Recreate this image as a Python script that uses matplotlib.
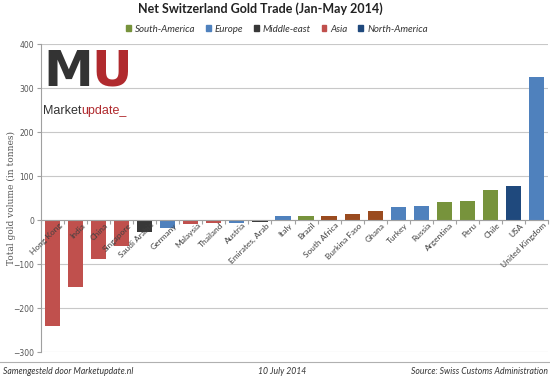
import matplotlib.pyplot as plt
from matplotlib.patches import Patch

# Datos
paises = ['Hong Kong', 'India', 'China', 'Singapore', 'Saudi Arabia', 'Germany',
          'Malaysia', 'Thailand', 'Austria', 'Emirates, Arab', 'Italy', 'Brazil',
          'South Africa', 'Burkina Faso', 'Ghana', 'Turkey', 'Russia', 'Argentina',
          'Peru', 'Chile', 'USA', 'United Kingdom']
toneladas = [-240, -153, -89, -59, -27, -18, -10, -7, -6, -5, 10, 10,
             10, 14, 20, 29, 32, 42, 43, 68, 77, 326]
regiones = ['Asia', 'Asia', 'Asia', 'Asia', 'Middle-east', 'Europe',
            'Asia', 'Asia', 'Europe', 'Middle-east', 'Europe', 'South-America',
            'Africa', 'Africa', 'Africa', 'Europe', 'Europe', 'South-America',
            'South-America', 'South-America', 'North-America', 'Europe']

colores = {'South-America': '#77933C', 'Europe': '#4F81BD', 'Middle-east': '#383838',
           'Asia': '#C0504D', 'North-America': '#1F497D', 'Africa': '#9A4B1F'}
leyenda = ['South-America', 'Europe', 'Middle-east', 'Asia', 'North-America']

W, H = 550, 379
fig = plt.figure(figsize=(5.5, 3.79), dpi=100)
ax = fig.add_axes([41 / W, 1 - 352 / H, 507 / W, 308 / H])

x = range(len(paises))
ax.bar(x, toneladas, width=0.66, color=[colores[r] for r in regiones],
       edgecolor='none', zorder=3)

ax.set_xlim(-0.5, len(paises) - 0.5)
ax.set_ylim(-300, 400)
ax.set_yticks(range(-300, 401, 100))
ax.yaxis.grid(True, color='#C8C8C8', linewidth=0.8, zorder=0)
ax.tick_params(axis='y', labelsize=5.5, labelcolor='#555555', color='#A0A0A0',
               length=3, width=0.8, pad=2)
for s in ['top', 'right']:
    ax.spines[s].set_visible(False)
ax.spines['left'].set_color('#A0A0A0')
ax.spines['bottom'].set_position(('data', 0))
ax.spines['bottom'].set_color('#A0A0A0')
ax.spines['bottom'].set_zorder(4)
ax.set_xticks([i + 0.5 for i in range(-1, len(paises))])
ax.set_xticklabels([])
ax.tick_params(axis='x', color='#A0A0A0', length=3, width=0.8)

for i, nombre in enumerate(paises):
    ax.text(i + 0.25, -4, nombre, rotation=45, ha='right', va='top',
            rotation_mode='anchor', fontsize=6, color='#404040',
            family='Lato', zorder=5)

ax.set_ylabel('Total gold volume (in tonnes)', family='DejaVu Serif',
              fontsize=6.5, color='#555555')
ax.yaxis.set_label_coords(-25 / 507, 0.5)

# Titulo y leyenda
fig.text(260 / W, 1 - 9 / H, 'Net Switzerland Gold Trade (Jan-May 2014)',
         ha='center', va='center', fontsize=9, fontweight='bold',
         family='Lato', color='#222222')
handles = [Patch(color=colores[r]) for r in leyenda]
fig.legend(handles, leyenda, loc='center', bbox_to_anchor=(277 / W, 1 - 29 / H),
           ncol=5, frameon=False, prop={'family': 'Lato', 'style': 'italic', 'size': 7},
           handlelength=0.45, handleheight=0.45, handletextpad=0.45, columnspacing=1.1,
           labelcolor='#333333')

# Logo
logo_y = 1 - 86 / H
m = fig.text(43 / W, logo_y, 'M', fontsize=36, fontweight='bold',
             family='DejaVu Sans', color='#333333', va='baseline')
fig.canvas.draw()
bb = m.get_window_extent()
fig.text(bb.x1 / W - 1 / W, logo_y, 'U', fontsize=36, fontweight='bold',
         family='DejaVu Sans', color='#B02A2E', va='baseline')
mk = fig.text(43 / W, 1 - 114 / H, 'Market', fontsize=9, family='Liberation Sans',
              color='#333333', va='baseline')
fig.canvas.draw()
bb = mk.get_window_extent()
fig.text(bb.x1 / W, 1 - 114 / H, 'update_', fontsize=9, family='Liberation Sans',
         color='#B02A2E', va='baseline')

# Pie
fig.add_artist(plt.Line2D([0, 1], [1 - 362 / H, 1 - 362 / H], color='#B0B0B0',
                          linewidth=0.8, transform=fig.transFigure))
pie = dict(fontsize=6.2, style='italic', family='Lato', color='#333333', va='center')
fig.text(3 / W, 1 - 371 / H, 'Samengesteld door Marketupdate.nl', ha='left', **pie)
fig.text(282 / W, 1 - 371 / H, '10 July 2014', ha='center', **pie)
fig.text(548 / W, 1 - 371 / H, 'Source: Swiss Customs Administration', ha='right', **pie)

fig.savefig('out.png', dpi=100)
